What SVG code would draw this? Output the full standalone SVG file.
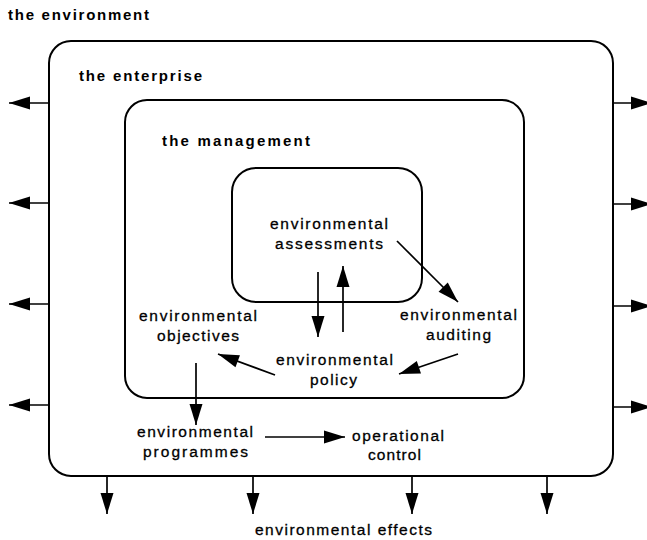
<svg xmlns="http://www.w3.org/2000/svg" width="647" height="540" viewBox="0 0 647 540">
<style>
.box{fill:none;stroke:#000;stroke-width:2}
.arr{fill:none;stroke:#000;stroke-width:1.7;marker-end:url(#ah)}
.t{font-family:"Liberation Sans",Arial,sans-serif;font-size:15.5px;fill:#000;stroke:#000;stroke-width:0.3}
.b{font-family:"Liberation Sans",Arial,sans-serif;font-size:15px;font-weight:bold;fill:#000}
</style>
<defs>
<marker id="ah" markerUnits="userSpaceOnUse" markerWidth="22" markerHeight="13" refX="21" refY="6.5" orient="auto" overflow="visible">
<path d="M0,0 L21,6.5 L0,13 z" fill="#000"/>
</marker>
</defs>
<rect width="647" height="540" fill="#fff"/>
<text class="b" x="8" y="20" textLength="141" lengthAdjust="spacing">the environment</text>
<g id="enterprise">
<rect class="box" x="49" y="41" width="564" height="435" rx="22"/>
<text class="b" x="79" y="81" textLength="123" lengthAdjust="spacing">the enterprise</text>
</g>
<g id="management">
<rect class="box" x="125" y="100" width="399" height="298" rx="22"/>
<text class="b" x="162" y="145.5" textLength="148" lengthAdjust="spacing">the management</text>
</g>
<g id="assessments">
<rect class="box" x="232" y="168" width="190" height="134" rx="24"/>
<text class="t" x="270" y="229" textLength="118" lengthAdjust="spacing">environmental</text>
<text class="t" x="275" y="249" textLength="108" lengthAdjust="spacing">assessments</text>
</g>
<g id="objectives">
<text class="t" x="139" y="321" textLength="118" lengthAdjust="spacing">environmental</text>
<text class="t" x="157" y="341" textLength="82" lengthAdjust="spacing">objectives</text>
</g>
<g id="auditing">
<text class="t" x="400" y="320" textLength="117" lengthAdjust="spacing">environmental</text>
<text class="t" x="426" y="340" textLength="65" lengthAdjust="spacing">auditing</text>
</g>
<g id="policy">
<text class="t" x="276" y="365" textLength="117" lengthAdjust="spacing">environmental</text>
<text class="t" x="310" y="385" textLength="47" lengthAdjust="spacing">policy</text>
</g>
<g id="programmes">
<text class="t" x="137" y="437" textLength="116" lengthAdjust="spacing">environmental</text>
<text class="t" x="143" y="456.5" textLength="105" lengthAdjust="spacing">programmes</text>
</g>
<g id="control">
<text class="t" x="352" y="441" textLength="92" lengthAdjust="spacing">operational</text>
<text class="t" x="368" y="460" textLength="53" lengthAdjust="spacing">control</text>
</g>
<g id="effects">
<text class="t" x="255" y="535" textLength="177" lengthAdjust="spacing">environmental effects</text>
</g>
<g id="connectors">
<line class="arr" x1="49" y1="103" x2="9" y2="103"/>
<line class="arr" x1="49" y1="203" x2="9" y2="203"/>
<line class="arr" x1="49" y1="304" x2="9" y2="304"/>
<line class="arr" x1="49" y1="405" x2="9" y2="405"/>
<line class="arr" x1="613" y1="103" x2="652" y2="103"/>
<line class="arr" x1="613" y1="204" x2="652" y2="204"/>
<line class="arr" x1="613" y1="306" x2="652" y2="306"/>
<line class="arr" x1="613" y1="407" x2="652" y2="407"/>
<line class="arr" x1="107" y1="476" x2="107" y2="514"/>
<line class="arr" x1="253" y1="476" x2="253" y2="514"/>
<line class="arr" x1="412" y1="476" x2="412" y2="514"/>
<line class="arr" x1="547" y1="476" x2="547" y2="514"/>
<line class="arr" x1="318" y1="272" x2="318" y2="337"/>
<line class="arr" x1="343" y1="332" x2="343" y2="266"/>
<line class="arr" x1="397" y1="241" x2="458" y2="302"/>
<line class="arr" x1="275" y1="375" x2="218" y2="354"/>
<line class="arr" x1="458" y1="354" x2="399" y2="374"/>
<line class="arr" x1="196" y1="363" x2="196" y2="425"/>
<line class="arr" x1="265" y1="437" x2="345" y2="437"/>
</g>
</svg>
